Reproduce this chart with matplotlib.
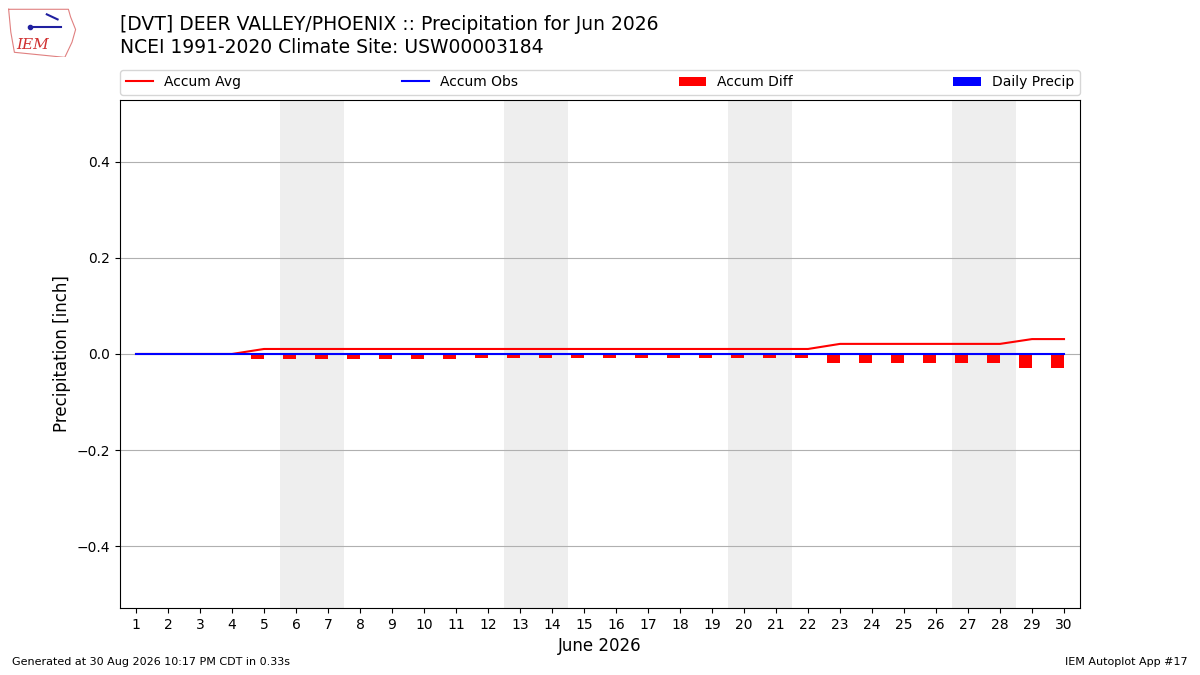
import matplotlib
matplotlib.use("Agg")
import matplotlib.pyplot as plt
import numpy as np

days = list(range(1, 31))
accum_avg = [0, 0, 0, 0] + [0.0104] * 18 + [0.021] * 6 + [0.031] * 2
accum_obs = [0.0] * 30
accum_diff = [0, 0, 0, 0] + [-0.0104] * 7 + [-0.008] * 11 + [-0.019] * 6 + [-0.029] * 2
daily_precip = [0.0] * 30
weekend_starts = [6, 13, 20, 27]
yticks = [-0.4, -0.2, 0.0, 0.2, 0.4]

fig = plt.figure(figsize=(12, 6.75), dpi=100)
ax = fig.add_axes([0.1, 0.0993, 0.8, 0.7526])

for d in weekend_starts:
    ax.axvspan(d - 0.5, d + 1.5, color="#eeeeee", zorder=0, lw=0)

ax.plot(days, accum_avg, color="red", lw=1.5, label="Accum Avg", zorder=3)
ax.plot(days, accum_obs, color="blue", lw=1.5, label="Accum Obs", zorder=3)
ax.bar(np.array(days) - 0.2, accum_diff, width=0.4, color="red", label="Accum Diff", zorder=2)
ax.bar(np.array(days) + 0.2, daily_precip, width=0.4, color="blue", label="Daily Precip", zorder=2)

ax.set_xlim(0.5, 30.5)
ax.set_ylim(-0.529, 0.529)
ax.set_xticks(days)
ax.set_yticks(yticks)
ax.grid(axis="y", color="#b0b0b0", lw=0.8)
ax.set_axisbelow(True)
ax.set_xlabel("June 2026", fontsize=12)
ax.set_ylabel("Precipitation [inch]", fontsize=12)

handles, labels = ax.get_legend_handles_labels()
want = ["Accum Avg", "Accum Obs", "Accum Diff", "Daily Precip"]
idx = [labels.index(w) for w in want]
ax.legend([handles[i] for i in idx], [labels[i] for i in idx],
          loc="lower left", bbox_to_anchor=(0, 1.01, 1, 0.05), ncol=4,
          mode="expand", borderaxespad=0, fontsize=10)

fig.text(0.1, 0.963, "[DVT] DEER VALLEY/PHOENIX :: Precipitation for Jun 2026",
         fontsize=13.5, va="center", ha="left")
fig.text(0.1, 0.929, "NCEI 1991-2020 Climate Site: USW00003184",
         fontsize=13.5, va="center", ha="left")
fig.text(0.01, 0.015, "Generated at 30 Aug 2026 10:17 PM CDT in 0.33s", fontsize=8)
fig.text(0.99, 0.015, "IEM Autoplot App #17", fontsize=8, ha="right")

# simple logo stand-in
lax = fig.add_axes([0.006, 0.915, 0.06, 0.075])
lax.set_xlim(0, 1); lax.set_ylim(0, 1); lax.axis("off")
lax.plot([0.02, 0.85, 0.88, 0.95, 0.9, 0.85, 0.8, 0.1, 0.05, 0.02],
         [0.95, 0.95, 0.8, 0.55, 0.3, 0.15, 0.0, 0.1, 0.5, 0.95],
         color="#e08080", lw=0.8)
lax.text(0.35, 0.25, "IEM", color="#d03030", fontsize=11, family="DejaVu Serif",
         style="italic", ha="center", va="center")
lax.plot([0.3, 0.75], [0.6, 0.6], color="#2020a0", lw=1.5)
lax.plot([0.32], [0.6], "o", color="#2020a0", ms=3)
lax.plot([0.55, 0.7], [0.85, 0.75], color="#2020a0", lw=1.5)

fig.savefig("out.png", dpi=100)
